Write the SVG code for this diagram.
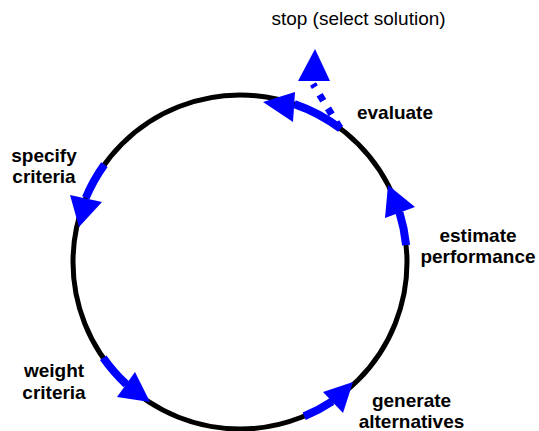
<svg xmlns="http://www.w3.org/2000/svg" width="539" height="431" viewBox="0 0 539 431">
<style>
.lbl{font-family:"Liberation Sans",Arial,sans-serif;font-size:19px;font-weight:bold;fill:#000;text-anchor:middle}
.stop{font-family:"Liberation Sans",Arial,sans-serif;font-size:19px;fill:#000;text-anchor:middle}
.arc{fill:none;stroke:#0000ff;stroke-width:8}
.head{fill:#0000ff;stroke:none}
</style>
<rect width="539" height="431" fill="#fff"/>
<g id="cycle">
<circle cx="240" cy="262" r="167" fill="none" stroke="#000" stroke-width="5"/>
</g>
<g id="connectors">
<path class="arc" d="M340.5,128.6 A167,167 0 0 0 294.4,104.1"/>
<polygon class="head" points="263,102 295,92 293,122"/>
<path d="M340,128 L313,84" fill="none" stroke="#0000ff" stroke-width="7" stroke-dasharray="7 9"/>
<polygon class="head" points="315,49 298,81 330,81"/>
<path class="arc" d="M104.4,164.6 A167,167 0 0 0 85.8,197.8"/>
<polygon class="head" points="79,227 70,195 102,202"/>
<path class="arc" d="M406.1,245.1 A167,167 0 0 0 399.5,212.6"/>
<polygon class="head" points="388,185 385,218 415,207"/>
<path class="arc" d="M103.2,357.8 A167,167 0 0 0 126.3,384.3"/>
<polygon class="head" points="150,402 135,372 117,397"/>
<path class="arc" d="M304.2,416.2 A167,167 0 0 0 332.2,401.3"/>
<polygon class="head" points="353,382 323,392 343,413"/>
</g>
<g id="stop"><text class="stop" x="358.5" y="25">stop (select solution)</text></g>
<g id="evaluate"><text class="lbl" x="395" y="119">evaluate</text></g>
<g id="specify-criteria"><text class="lbl" x="44" y="162">specify</text><text class="lbl" x="44" y="183">criteria</text></g>
<g id="estimate-performance"><text class="lbl" x="478" y="242">estimate</text><text class="lbl" x="478" y="263">performance</text></g>
<g id="weight-criteria"><text class="lbl" x="54" y="377">weight</text><text class="lbl" x="54" y="399">criteria</text></g>
<g id="generate-alternatives"><text class="lbl" x="411.5" y="407">generate</text><text class="lbl" x="411.5" y="428">alternatives</text></g>
</svg>
